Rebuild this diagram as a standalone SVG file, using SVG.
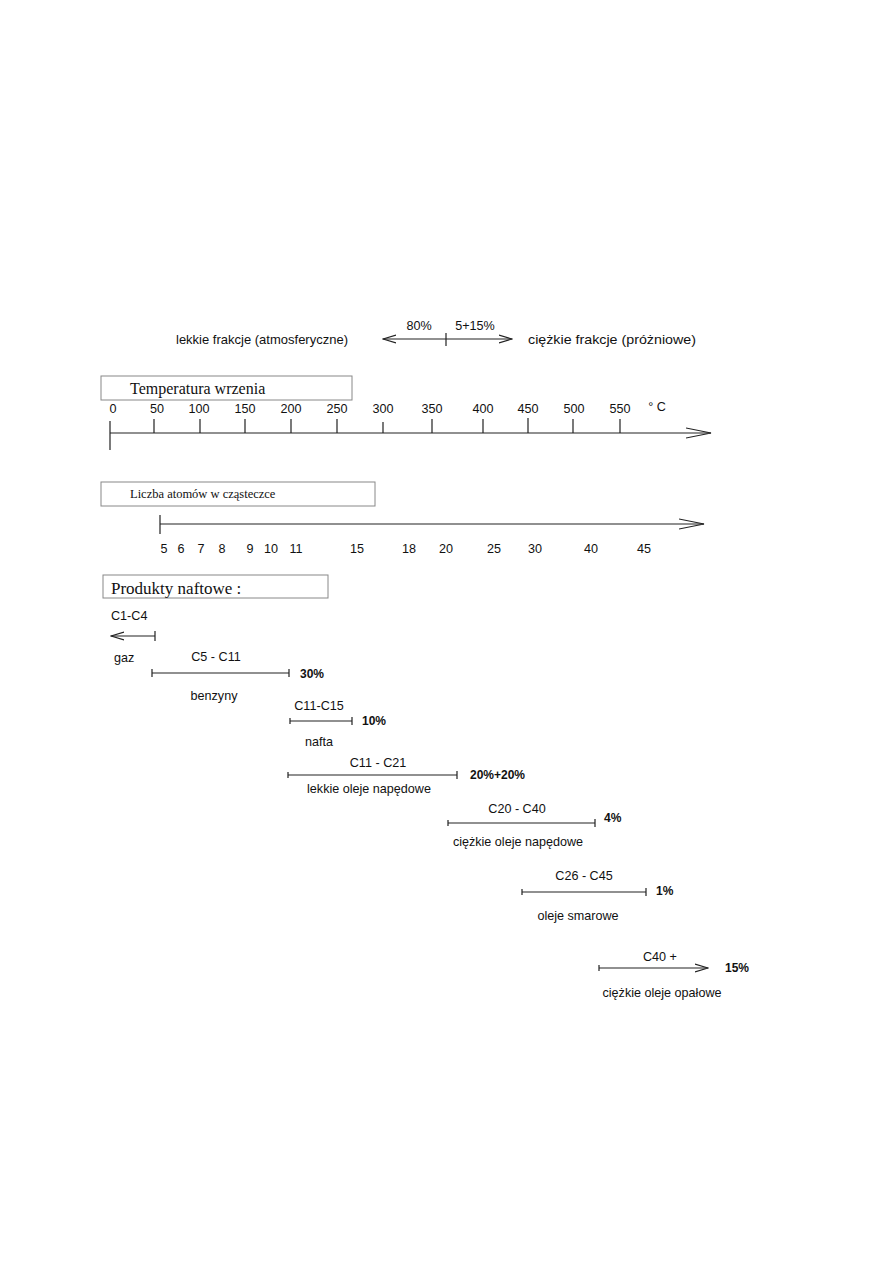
<svg xmlns="http://www.w3.org/2000/svg" width="893" height="1263" viewBox="0 0 893 1263">
<style>
.s{font-family:"Liberation Sans",Arial,sans-serif;font-size:12.6px;fill:#111}
.b{font-family:"Liberation Sans",Arial,sans-serif;font-size:12px;font-weight:bold;fill:#111}
.r{font-family:"Liberation Serif","Times New Roman",serif;fill:#111}
.m{text-anchor:middle}
.ln{stroke:#222;stroke-width:1.2;fill:none}
.box{fill:#fff;stroke:#888;stroke-width:1}
</style>
<defs>
<marker id="open" markerWidth="14" markerHeight="10" refX="13" refY="5" orient="auto" markerUnits="userSpaceOnUse"><path d="M0,1 L13,5 L0,9" fill="none" stroke="#222" stroke-width="1.2"/></marker>
<marker id="openStart" markerWidth="14" markerHeight="10" refX="1" refY="5" orient="auto" markerUnits="userSpaceOnUse"><path d="M14,1 L1,5 L14,9" fill="none" stroke="#222" stroke-width="1.2"/></marker>
<marker id="big" markerWidth="26" markerHeight="12" refX="25" refY="6" orient="auto" markerUnits="userSpaceOnUse"><path d="M0,1 L25,6 L0,11" fill="none" stroke="#222" stroke-width="1.2"/></marker>
</defs>
<rect width="893" height="1263" fill="#fff"/>

<g id="header">
<text class="s" x="176" y="344" textLength="172" lengthAdjust="spacingAndGlyphs">lekkie frakcje (atmosferyczne)</text>
<text class="s m" x="419" y="330">80%</text>
<text class="s m" x="475" y="330">5+15%</text>
<text class="s" x="528" y="344" textLength="168" lengthAdjust="spacingAndGlyphs">ciężkie frakcje (próżniowe)</text>
</g>

<g id="temp-box">
<rect class="box" x="101" y="376" width="251" height="24"/>
<text class="r" x="130" y="394" font-size="16">Temperatura wrzenia</text>
</g>
<g id="temp-labels" class="s m">
<text x="113" y="413">0</text>
<text x="157" y="413">50</text>
<text x="199" y="413">100</text>
<text x="245" y="413">150</text>
<text x="291" y="413">200</text>
<text x="337" y="413">250</text>
<text x="383" y="413">300</text>
<text x="432" y="413">350</text>
<text x="483" y="413">400</text>
<text x="528" y="413">450</text>
<text x="574" y="413">500</text>
<text x="620" y="413">550</text>
<text x="657" y="411">°  C</text>
</g>

<g id="atom-box">
<rect class="box" x="101" y="482" width="274" height="24"/>
<text class="r" x="130" y="498" font-size="12.5">Liczba atomów w cząsteczce</text>
</g>
<g id="atom-labels" class="s m">
<text x="164" y="553">5</text>
<text x="181" y="553">6</text>
<text x="201" y="553">7</text>
<text x="222" y="553">8</text>
<text x="250" y="553">9</text>
<text x="271" y="553">10</text>
<text x="296" y="553">11</text>
<text x="357" y="553">15</text>
<text x="409" y="553">18</text>
<text x="446" y="553">20</text>
<text x="494" y="553">25</text>
<text x="535" y="553">30</text>
<text x="591" y="553">40</text>
<text x="644" y="553">45</text>
</g>

<g id="products-box">
<rect class="box" x="103" y="575" width="225" height="23"/>
<text class="r" x="111" y="594" font-size="17">Produkty naftowe :</text>
</g>

<g id="p-gaz"><text class="s" x="111" y="620">C1-C4</text><text class="s" x="114" y="662">gaz</text></g>
<g id="p-benzyny"><text class="s m" x="216" y="661">C5 - C11</text><text class="s m" x="214" y="700">benzyny</text><text class="b" x="300" y="678">30%</text></g>
<g id="p-nafta"><text class="s m" x="319" y="710">C11-C15</text><text class="s m" x="319" y="746">nafta</text><text class="b" x="362" y="725">10%</text></g>
<g id="p-lekkie"><text class="s m" x="378" y="767">C11 - C21</text><text class="s m" x="369" y="793">lekkie oleje napędowe</text><text class="b" x="470" y="779">20%+20%</text></g>
<g id="p-ciezkie"><text class="s m" x="517" y="813">C20 - C40</text><text class="s m" x="518" y="846">ciężkie oleje napędowe</text><text class="b" x="604" y="822">4%</text></g>
<g id="p-smarowe"><text class="s m" x="584" y="880">C26 - C45</text><text class="s m" x="578" y="920">oleje smarowe</text><text class="b" x="656" y="895">1%</text></g>
<g id="p-opalowe"><text class="s m" x="660" y="961">C40 +</text><text class="s m" x="662" y="997">ciężkie oleje opałowe</text><text class="b" x="725" y="972">15%</text></g>

<g id="connectors" class="ln">
<line x1="383" y1="339" x2="512" y2="339" marker-start="url(#openStart)" marker-end="url(#open)"/>
<line x1="446" y1="333" x2="446" y2="346"/>
<line x1="110" y1="433" x2="711" y2="433" marker-end="url(#big)"/>
<line x1="110" y1="421" x2="110" y2="450"/>
<path d="M154,419V433M200,419V433M245,419V433M291,419V433M337,419V433M383,422V433M432,419V433M483,419V433M528,418V433M573,419V433M620,419V433"/>
<line x1="160" y1="524" x2="704" y2="524" marker-end="url(#big)"/>
<line x1="160" y1="515" x2="160" y2="534"/>
<line x1="111" y1="636" x2="155" y2="636" marker-start="url(#openStart)"/>
<line x1="155" y1="631" x2="155" y2="641"/>
<path d="M152,673H289M152,669V677M289,669V677"/>
<path d="M290,721H352M290,718V724M352,717V725"/>
<path d="M288,775H457M288,772V778M457,771V779"/>
<path d="M448,823H595M448,820V826M595,819V827"/>
<path d="M522,892H646M522,889V895M646,888V896"/>
<line x1="599" y1="968" x2="708" y2="968" marker-end="url(#open)"/>
<line x1="599" y1="965" x2="599" y2="971"/>
</g>
</svg>
